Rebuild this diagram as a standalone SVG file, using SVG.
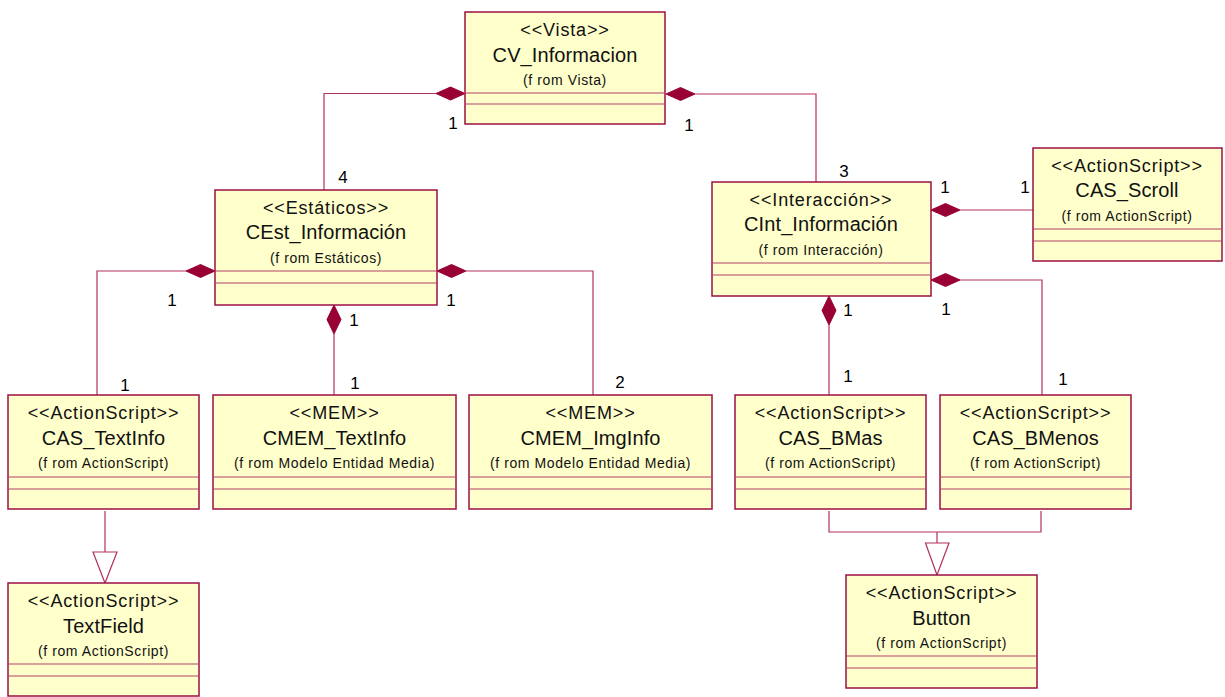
<svg xmlns="http://www.w3.org/2000/svg" width="1225" height="697" viewBox="0 0 1225 697">
  <style>
    .box { fill: #FFFFCB; stroke: #9B1046; stroke-width: 1.5; }
    .sep { stroke: #B8406A; stroke-width: 1.2; fill: none; }
    .st { font-family: "Liberation Sans", Arial, sans-serif; font-size: 18px; letter-spacing: 0.85px; fill: #111; text-anchor: middle; }
    .nm { font-family: "Liberation Sans", Arial, sans-serif; font-size: 20px; letter-spacing: 0.1px; fill: #111; text-anchor: middle; }
    .fr { font-family: "Liberation Sans", Arial, sans-serif; font-size: 14px; letter-spacing: 0.6px; fill: #111; text-anchor: middle; }
    .mult { font-family: "Liberation Sans", Arial, sans-serif; font-size: 17px; fill: #000; text-anchor: middle; }
    .line { stroke: #B3305F; stroke-width: 1.2; fill: none; }
    .dia { fill: #990033; stroke: #990033; stroke-width: 1; }
    .gen { fill: #FFFFFF; stroke: #B3305F; stroke-width: 1.2; }
  </style>

  <!-- connectors: compositions, generalizations -->
  <g id="connectors">
    <!-- CV_Informacion <>- CEst_Informacion -->
    <path class="line" d="M436,93.5 H324 V190"/>
    <path class="dia" d="M465,93.5 L450.5,87 L436,93.5 L450.5,100 Z"/>
    <!-- CV_Informacion <>- CInt_Informacion -->
    <path class="line" d="M695,94 H816 V182"/>
    <path class="dia" d="M666,94 L680.5,87.5 L695,94 L680.5,100.5 Z"/>
    <!-- CEst_Informacion <>- CAS_TextInfo -->
    <path class="line" d="M186,271 H97 V395"/>
    <path class="dia" d="M215,271 L200.5,264.5 L186,271 L200.5,277.5 Z"/>
    <!-- CEst_Informacion <>- CMEM_TextInfo -->
    <path class="line" d="M334,334 V395"/>
    <path class="dia" d="M334,305 L341,319.5 L334,334 L327,319.5 Z"/>
    <!-- CEst_Informacion <>- CMEM_ImgInfo -->
    <path class="line" d="M466,271 H593 V395"/>
    <path class="dia" d="M437,271 L451.5,264.5 L466,271 L451.5,277.5 Z"/>
    <!-- CInt_Informacion <>- CAS_Scroll -->
    <path class="line" d="M960,210 H1033"/>
    <path class="dia" d="M931,210 L945.5,203.5 L960,210 L945.5,216.5 Z"/>
    <!-- CInt_Informacion <>- CAS_BMenos -->
    <path class="line" d="M960,280 H1042 V395"/>
    <path class="dia" d="M931,280 L945.5,273.5 L960,280 L945.5,286.5 Z"/>
    <!-- CInt_Informacion <>- CAS_BMas -->
    <path class="line" d="M829,325 V395"/>
    <path class="dia" d="M829,296 L836,310.5 L829,325 L822,310.5 Z"/>
    <!-- CAS_TextInfo -|> TextField -->
    <path class="line" d="M105,511 V552"/>
    <path class="gen" d="M93,552 H117 L105,583 Z"/>
    <!-- CAS_BMas, CAS_BMenos -|> Button -->
    <path class="line" d="M829,511 V532 H1041 V511 M937,532 V543"/>
    <path class="gen" d="M925.5,543 H949 L937,575 Z"/>

    <!-- multiplicities -->
    <text class="mult" x="453" y="129">1</text>
    <text class="mult" x="689" y="131">1</text>
    <text class="mult" x="343" y="183">4</text>
    <text class="mult" x="844" y="177">3</text>
    <text class="mult" x="945" y="193">1</text>
    <text class="mult" x="1025" y="193">1</text>
    <text class="mult" x="848" y="316">1</text>
    <text class="mult" x="946" y="315">1</text>
    <text class="mult" x="848" y="382">1</text>
    <text class="mult" x="1063" y="385">1</text>
    <text class="mult" x="172" y="306">1</text>
    <text class="mult" x="451" y="306">1</text>
    <text class="mult" x="354" y="326">1</text>
    <text class="mult" x="125" y="391">1</text>
    <text class="mult" x="355" y="389">1</text>
    <text class="mult" x="620" y="388">2</text>
  </g>

  <!-- classes -->
  <g id="CV_Informacion">
    <rect class="box" x="465" y="12" width="200" height="112"/>
    <path class="sep" d="M465,93 H665 M465,104 H665"/>
    <text class="st" x="565" y="36">&lt;&lt;Vista&gt;&gt;</text>
    <text class="nm" x="565" y="62">CV_Informacion</text>
    <text class="fr" x="565" y="85">(f rom Vista)</text>
  </g>

  <g id="CEst_Informacion">
    <rect class="box" x="215" y="190" width="222" height="115"/>
    <path class="sep" d="M215,271 H437 M215,283 H437"/>
    <text class="st" x="326" y="214">&lt;&lt;Estáticos&gt;&gt;</text>
    <text class="nm" x="326" y="239">CEst_Información</text>
    <text class="fr" x="326" y="263">(f rom Estáticos)</text>
  </g>

  <g id="CInt_Informacion">
    <rect class="box" x="712" y="182" width="219" height="114"/>
    <path class="sep" d="M712,263 H931 M712,275 H931"/>
    <text class="st" x="821" y="206">&lt;&lt;Interacción&gt;&gt;</text>
    <text class="nm" x="821" y="231">CInt_Información</text>
    <text class="fr" x="821" y="255">(f rom Interacción)</text>
  </g>

  <g id="CAS_Scroll">
    <rect class="box" x="1033" y="148" width="189" height="113"/>
    <path class="sep" d="M1033,229 H1222 M1033,241 H1222"/>
    <text class="st" x="1127" y="172">&lt;&lt;ActionScript&gt;&gt;</text>
    <text class="nm" x="1127" y="197">CAS_Scroll</text>
    <text class="fr" x="1127" y="221">(f rom ActionScript)</text>
  </g>

  <g id="CAS_TextInfo">
    <rect class="box" x="8" y="395" width="191" height="114"/>
    <path class="sep" d="M8,477 H199 M8,489 H199"/>
    <text class="st" x="103.5" y="419">&lt;&lt;ActionScript&gt;&gt;</text>
    <text class="nm" x="103.5" y="445">CAS_TextInfo</text>
    <text class="fr" x="103.5" y="468">(f rom ActionScript)</text>
  </g>

  <g id="CMEM_TextInfo">
    <rect class="box" x="213" y="395" width="243" height="114"/>
    <path class="sep" d="M213,477 H456 M213,489 H456"/>
    <text class="st" x="334.5" y="419">&lt;&lt;MEM&gt;&gt;</text>
    <text class="nm" x="334.5" y="445">CMEM_TextInfo</text>
    <text class="fr" x="334.5" y="468">(f rom Modelo Entidad Media)</text>
  </g>

  <g id="CMEM_ImgInfo">
    <rect class="box" x="469" y="395" width="243" height="114"/>
    <path class="sep" d="M469,477 H712 M469,489 H712"/>
    <text class="st" x="590.5" y="419">&lt;&lt;MEM&gt;&gt;</text>
    <text class="nm" x="590.5" y="445">CMEM_ImgInfo</text>
    <text class="fr" x="590.5" y="468">(f rom Modelo Entidad Media)</text>
  </g>

  <g id="CAS_BMas">
    <rect class="box" x="735" y="395" width="191" height="114"/>
    <path class="sep" d="M735,477 H926 M735,489 H926"/>
    <text class="st" x="830.5" y="419">&lt;&lt;ActionScript&gt;&gt;</text>
    <text class="nm" x="830.5" y="445">CAS_BMas</text>
    <text class="fr" x="830.5" y="468">(f rom ActionScript)</text>
  </g>

  <g id="CAS_BMenos">
    <rect class="box" x="940" y="395" width="191" height="114"/>
    <path class="sep" d="M940,477 H1131 M940,489 H1131"/>
    <text class="st" x="1035.5" y="419">&lt;&lt;ActionScript&gt;&gt;</text>
    <text class="nm" x="1035.5" y="445">CAS_BMenos</text>
    <text class="fr" x="1035.5" y="468">(f rom ActionScript)</text>
  </g>

  <g id="TextField">
    <rect class="box" x="8" y="583" width="191" height="113"/>
    <path class="sep" d="M8,664 H199 M8,676 H199"/>
    <text class="st" x="103.5" y="607">&lt;&lt;ActionScript&gt;&gt;</text>
    <text class="nm" x="103.5" y="633">TextField</text>
    <text class="fr" x="103.5" y="656">(f rom ActionScript)</text>
  </g>

  <g id="Button">
    <rect class="box" x="846" y="575" width="191" height="113"/>
    <path class="sep" d="M846,656 H1037 M846,668 H1037"/>
    <text class="st" x="941.5" y="599">&lt;&lt;ActionScript&gt;&gt;</text>
    <text class="nm" x="941.5" y="625">Button</text>
    <text class="fr" x="941.5" y="648">(f rom ActionScript)</text>
  </g>
</svg>
